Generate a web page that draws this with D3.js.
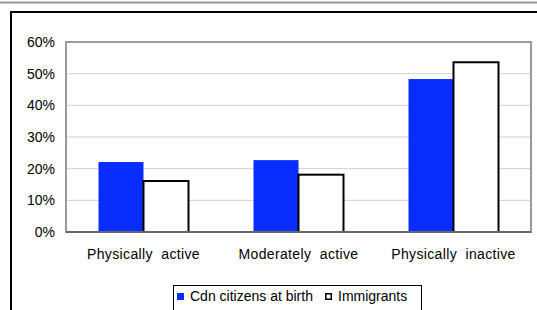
<!DOCTYPE html>
<html>
<head>
<meta charset="utf-8">
<script src="https://cdn.jsdelivr.net/npm/d3@7"></script>
<style>
  body { margin: 0; background: #fff; }
  svg { display: block; font-family: "Liberation Sans", Arial, sans-serif; }
</style>
</head>
<body>
<div id="chart"></div>
<script>
// chart data
const categories = ["Physically  active", "Moderately  active", "Physically  inactive"];
const seriesNames = ["Cdn citizens at birth", "Immigrants"];
const cdnValues = [0.221, 0.227, 0.483];
const immValues = [0.161, 0.181, 0.536];
const yTicks = [0, 0.1, 0.2, 0.3, 0.4, 0.5, 0.6];

const w = 537, h = 310;
const padLeft = 66, padRight = 6, padTop = 42, plotBottom = 232;

const svg = d3.select("#chart").append("svg")
  .attr("width", w)
  .attr("height", h);

// top rule + outer frame
svg.append("line")
  .attr("x1", 0).attr("x2", w).attr("y1", 2.5).attr("y2", 2.5)
  .attr("stroke", "#999").attr("stroke-width", 2);
svg.append("rect")
  .attr("x", 11).attr("y", 12).attr("width", w).attr("height", h)
  .attr("fill", "none").attr("stroke", "#000").attr("stroke-width", 2);

// scales
const x0 = d3.scaleBand()
  .domain(categories)
  .range([padLeft, w - padRight]);
const x1 = d3.scaleBand()
  .domain(seriesNames)
  .range([0, 90]);
const y = d3.scaleLinear()
  .domain([0, 0.6])
  .range([plotBottom, padTop]);

// gridlines
svg.append("g")
  .selectAll("line")
  .data(yTicks.slice(1, -1))
  .join("line")
  .attr("x1", padLeft).attr("x2", w - padRight)
  .attr("y1", d => y(d)).attr("y2", d => y(d))
  .attr("stroke", "#d0d0d0").attr("stroke-width", 1);

// plot border
svg.append("rect")
  .attr("x", padLeft).attr("y", padTop)
  .attr("width", w - padRight - padLeft).attr("height", plotBottom - padTop)
  .attr("fill", "none").attr("stroke", "#999").attr("stroke-width", 2);

// y axis labels
const yAxis = d3.axisLeft(y)
  .tickValues(yTicks)
  .tickFormat(d3.format(".0%"))
  .tickSize(0)
  .tickPadding(11);
svg.append("g")
  .attr("transform", `translate(${padLeft}, 0)`)
  .call(yAxis)
  .call(g => g.select(".domain").remove())
  .selectAll("text")
  .attr("font-size", 14)
  .attr("font-family", "Liberation Sans, Arial, sans-serif")
  .attr("fill", "#000");

// bars
const rows = categories.map((c, i) => ({ cat: c, vals: [cdnValues[i], immValues[i]] }));
const groups = svg.append("g").selectAll("g")
  .data(rows)
  .join("g")
  .attr("transform", d => `translate(${x0(d.cat) + (x0.bandwidth() - 90) / 2}, 0)`);
groups.selectAll("rect")
  .data(d => d.vals.map((v, j) => ({ name: seriesNames[j], v })))
  .join("rect")
  .attr("x", d => x1(d.name))
  .attr("y", d => y(d.v))
  .attr("width", x1.bandwidth())
  .attr("height", d => plotBottom - y(d.v))
  .attr("fill", d => d.name === seriesNames[0] ? "#0a2dff" : "#fff")
  .attr("stroke", d => d.name === seriesNames[0] ? "none" : "#000")
  .attr("stroke-width", 2);

// baseline
svg.append("line")
  .attr("x1", padLeft).attr("x2", w - padRight)
  .attr("y1", plotBottom).attr("y2", plotBottom)
  .attr("stroke", "#666").attr("stroke-width", 2);

// x axis labels
const xAxis = d3.axisBottom(x0).tickSize(0).tickPadding(17);
svg.append("g")
  .attr("transform", `translate(0, ${plotBottom})`)
  .call(xAxis)
  .call(g => g.select(".domain").remove())
  .selectAll("text")
  .attr("font-size", 14)
  .attr("font-family", "Liberation Sans, Arial, sans-serif")
  .attr("fill", "#000")
  .style("white-space", "pre")
  .style("letter-spacing", "0.35px");

// legend
const legend = svg.append("g");
legend.append("rect")
  .attr("x", 173.5).attr("y", 285.5).attr("width", 248).attr("height", 40)
  .attr("fill", "#fff").attr("stroke", "#000").attr("stroke-width", 1);
const legX = [177, 325];
seriesNames.forEach((name, i) => {
  legend.append("rect")
    .attr("x", legX[i] + (i ? 0.75 : 0)).attr("y", 293 + (i ? 0.75 : 0))
    .attr("width", i ? 5.5 : 7).attr("height", i ? 5.5 : 7)
    .attr("fill", i ? "#fff" : "#0a2dff")
    .attr("stroke", i ? "#000" : "none").attr("stroke-width", 1.5);
  legend.append("text")
    .attr("x", legX[i] + 13).attr("y", 300.5)
    .attr("font-size", 14)
    .attr("fill", "#000")
    .text(name);
});
</script>
</body>
</html>
